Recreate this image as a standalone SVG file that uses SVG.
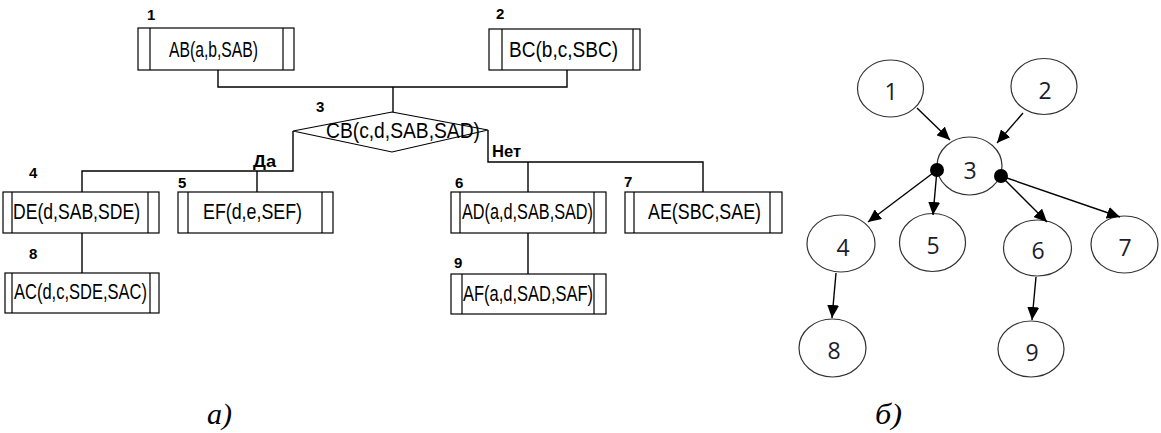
<svg xmlns="http://www.w3.org/2000/svg" width="1161" height="433" viewBox="0 0 1161 433">
<style>
.bx{fill:#fff;stroke:#000;stroke-width:1.2}
.in{stroke:#000;stroke-width:1.2}
.t{font-family:"Liberation Sans",Arial,sans-serif;font-size:22px;fill:#000}
.lb{font-family:"Liberation Sans",Arial,sans-serif;font-size:15px;font-weight:bold;fill:#000}
.br{font-family:"Liberation Sans",Arial,sans-serif;font-size:16px;font-weight:bold;fill:#000}
.cn{fill:none;stroke:#000;stroke-width:1.4}
.el{fill:#fff;stroke:#333;stroke-width:1.2}
.nm{font-family:"Open Sans","Noto Sans",sans-serif;font-size:23px;fill:#1c1c2c;text-anchor:middle}
.ar{fill:none;stroke:#000;stroke-width:1.4}
.cap{font-family:"Liberation Serif","Times New Roman",serif;font-style:italic;font-size:30px;fill:#000}
</style>
<defs>
<marker id="ah" markerUnits="userSpaceOnUse" markerWidth="14" markerHeight="12" refX="13" refY="6" orient="auto">
<path d="M0,0 L13,6 L0,12 Z" fill="#000"/>
</marker>
</defs>
<rect width="1161" height="433" fill="#fff"/>

<g id="connectors-a">
<polyline class="cn" points="218,70 218,87 567,87 567,70"/>
<line class="cn" x1="393" y1="87" x2="393" y2="112"/>
<polyline class="cn" points="293,131 293,171 82,171 82,192"/>
<line class="cn" x1="257" y1="171" x2="257" y2="192"/>
<line class="cn" x1="82" y1="233" x2="82" y2="273"/>
<polyline class="cn" points="488,130 488,162 703,162 703,192"/>
<line class="cn" x1="528" y1="162" x2="528" y2="192"/>
<line class="cn" x1="528" y1="233" x2="528" y2="274"/>
<text class="br" x="253" y="167" textLength="23" lengthAdjust="spacingAndGlyphs">Да</text>
<text class="br" x="492" y="157" textLength="29" lengthAdjust="spacingAndGlyphs">Нет</text>
</g>

<g id="n1">
<rect class="bx" x="138" y="28" width="156" height="42"/>
<line class="in" x1="150" y1="28" x2="150" y2="70"/>
<line class="in" x1="283" y1="28" x2="283" y2="70"/>
<text class="t" x="169" y="57" textLength="89" lengthAdjust="spacingAndGlyphs">AB(a,b,SAB)</text>
<text class="lb" x="147" y="20">1</text>
</g>
<g id="n2">
<rect class="bx" x="489" y="29" width="151" height="41"/>
<line class="in" x1="502" y1="29" x2="502" y2="70"/>
<line class="in" x1="633" y1="29" x2="633" y2="70"/>
<text class="t" x="509" y="57" textLength="109" lengthAdjust="spacingAndGlyphs">BC(b,c,SBC)</text>
<text class="lb" x="496" y="19">2</text>
</g>
<g id="n3">
<polygon class="bx" points="392,112 488,130 392,152 293,131"/>
<text class="t" x="326" y="138" textLength="154" lengthAdjust="spacingAndGlyphs">CB(c,d,SAB,SAD)</text>
<text class="lb" x="316" y="112">3</text>
</g>
<g id="n4">
<rect class="bx" x="3" y="192" width="156" height="41"/>
<line class="in" x1="12" y1="192" x2="12" y2="233"/>
<line class="in" x1="148" y1="192" x2="148" y2="233"/>
<text class="t" x="13" y="219" textLength="127" lengthAdjust="spacingAndGlyphs">DE(d,SAB,SDE)</text>
<text class="lb" x="29" y="178">4</text>
</g>
<g id="n5">
<rect class="bx" x="178" y="192" width="155" height="41"/>
<line class="in" x1="188" y1="192" x2="188" y2="233"/>
<line class="in" x1="322" y1="192" x2="322" y2="233"/>
<text class="t" x="203" y="219" textLength="99" lengthAdjust="spacingAndGlyphs">EF(d,e,SEF)</text>
<text class="lb" x="178" y="188">5</text>
</g>
<g id="n6">
<rect class="bx" x="451" y="192" width="155" height="41"/>
<line class="in" x1="460" y1="192" x2="460" y2="233"/>
<line class="in" x1="594" y1="192" x2="594" y2="233"/>
<text class="t" x="462" y="219" textLength="131" lengthAdjust="spacingAndGlyphs">AD(a,d,SAB,SAD)</text>
<text class="lb" x="455" y="188">6</text>
</g>
<g id="n7">
<rect class="bx" x="625" y="192" width="157" height="41"/>
<line class="in" x1="634" y1="192" x2="634" y2="233"/>
<line class="in" x1="770" y1="192" x2="770" y2="233"/>
<text class="t" x="648" y="219" textLength="113" lengthAdjust="spacingAndGlyphs">AE(SBC,SAE)</text>
<text class="lb" x="624" y="187">7</text>
</g>
<g id="n8">
<rect class="bx" x="5" y="273" width="154" height="40"/>
<line class="in" x1="12" y1="273" x2="12" y2="313"/>
<line class="in" x1="150" y1="273" x2="150" y2="313"/>
<text class="t" x="14" y="299" textLength="133" lengthAdjust="spacingAndGlyphs">AC(d,c,SDE,SAC)</text>
<text class="lb" x="29" y="259">8</text>
</g>
<g id="n9">
<rect class="bx" x="451" y="274" width="155" height="40"/>
<line class="in" x1="462" y1="274" x2="462" y2="314"/>
<line class="in" x1="594" y1="274" x2="594" y2="314"/>
<text class="t" x="463" y="301" textLength="130" lengthAdjust="spacingAndGlyphs">AF(a,d,SAD,SAF)</text>
<text class="lb" x="454" y="268">9</text>
</g>

<g id="g1"><ellipse class="el" cx="890.5" cy="88.5" rx="33" ry="28.5"/><text class="nm" x="891" y="100">1</text></g>
<g id="g2"><ellipse class="el" cx="1044" cy="86.5" rx="33" ry="28"/><text class="nm" x="1045" y="99">2</text></g>
<g id="g3"><ellipse class="el" cx="969.5" cy="166" rx="32.5" ry="29"/><text class="nm" x="970" y="179">3</text></g>
<g id="g4"><ellipse class="el" cx="841" cy="243.5" rx="34" ry="28.5"/><text class="nm" x="843" y="256">4</text></g>
<g id="g5"><ellipse class="el" cx="932.5" cy="242.5" rx="33" ry="29"/><text class="nm" x="933" y="254">5</text></g>
<g id="g6"><ellipse class="el" cx="1037.5" cy="248" rx="34" ry="28"/><text class="nm" x="1038" y="259">6</text></g>
<g id="g7"><ellipse class="el" cx="1124.5" cy="244.5" rx="33.5" ry="28.5"/><text class="nm" x="1125" y="256">7</text></g>
<g id="g8"><ellipse class="el" cx="832.5" cy="348" rx="33.5" ry="29"/><text class="nm" x="834" y="359">8</text></g>
<g id="g9"><ellipse class="el" cx="1031" cy="349" rx="33" ry="28"/><text class="nm" x="1032" y="361">9</text></g>

<g id="connectors-b">
<line class="ar" x1="917" y1="108" x2="950" y2="140" marker-end="url(#ah)"/>
<line class="ar" x1="1023" y1="113" x2="997" y2="143" marker-end="url(#ah)"/>
<line class="ar" x1="937" y1="170" x2="868" y2="222" marker-end="url(#ah)"/>
<line class="ar" x1="937" y1="170" x2="933" y2="215" marker-end="url(#ah)"/>
<line class="ar" x1="1001" y1="176" x2="1047" y2="222" marker-end="url(#ah)"/>
<line class="ar" x1="1001" y1="176" x2="1120" y2="217" marker-end="url(#ah)"/>
<line class="ar" x1="836" y1="273" x2="832" y2="318" marker-end="url(#ah)"/>
<line class="ar" x1="1036" y1="277" x2="1032" y2="320" marker-end="url(#ah)"/>
<circle cx="937" cy="170" r="7" fill="#000"/>
<circle cx="1001" cy="176" r="7" fill="#000"/>
</g>

<text class="cap" x="207" y="424" textLength="25" lengthAdjust="spacingAndGlyphs">а)</text>
<text class="cap" x="875" y="424" textLength="27" lengthAdjust="spacingAndGlyphs">б)</text>
</svg>
